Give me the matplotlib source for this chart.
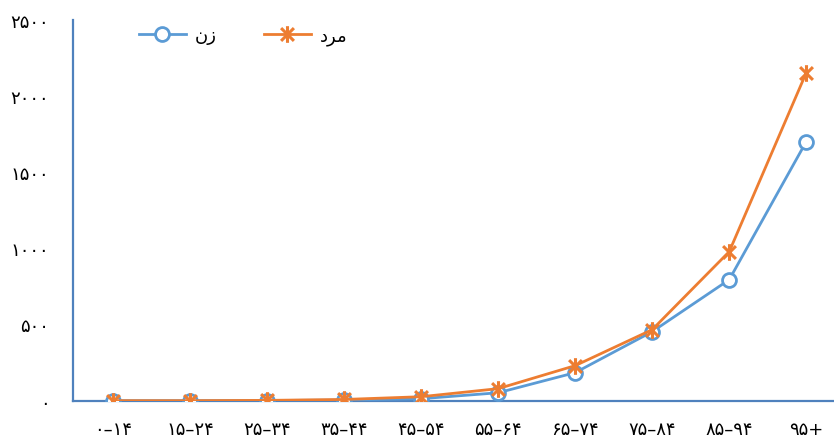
import matplotlib
matplotlib.use('Agg')
from matplotlib import pyplot as plt
from matplotlib.path import Path
import numpy as np

# age groups (Persian digits)
age_groups = ['۰–۱۴', '۱۵–۲۴', '۲۵–۳۴', '۳۵–۴۴', '۴۵–۵۴',
              '۵۵–۶۴', '۶۵–۷۴', '۷۵–۸۴', '۸۵–۹۴', '۹۵+']
women = [0, 0, 1, 4, 13, 52, 184, 453, 794, 1700]
men = [0, 0, 2, 8, 26, 79, 230, 466, 978, 2152]

y_ticks = [0, 500, 1000, 1500, 2000, 2500]
y_labels = ['۰', '۵۰۰', '۱۰۰۰', '۱۵۰۰', '۲۰۰۰', '۲۵۰۰']

# legend names, glyphs pre-shaped and in visual order (no bidi in mpl)
label_women = '\u0646\u0632'              # زن
label_men = '\u062f\ufeae\ufee3'          # مرد

blue = '#5B9BD5'
orange = '#ED7D31'
axis_col = '#4F81BD'

# excel style star: an x with a vertical bar through it
star = Path([(-1, -1), (1, 1), (-1, 1), (1, -1), (0, -1.3), (0, 1.3)],
            [Path.MOVETO, Path.LINETO, Path.MOVETO, Path.LINETO,
             Path.MOVETO, Path.LINETO])

plt.rcParams['font.family'] = ['DejaVu Sans']

fig = plt.figure(figsize=(8.34, 4.39), dpi=100)
ax = fig.add_axes([0.0875, 0.085, 0.9125, 0.868])

x = np.arange(len(age_groups))
ax.plot(x, women, color=blue, lw=2.0, marker='o', ms=10,
        mfc='white', mec=blue, mew=2.0, label=label_women, zorder=3)
ax.plot(x, men, color=orange, lw=2.0, marker=star, ms=12,
        mec=orange, mew=2.2, label=label_men, zorder=4)

ax.set_xlim(-0.52, 9.36)
ax.set_ylim(0, 2500)
ax.set_xticks(x)
ax.set_xticklabels(age_groups, fontsize=13)
ax.set_yticks(y_ticks)
ax.set_yticklabels(y_labels, fontsize=13)
ax.tick_params(axis='both', length=0, colors='black')
ax.tick_params(axis='x', pad=14)
ax.tick_params(axis='y', pad=17)

for s in ['top', 'right']:
    ax.spines[s].set_visible(False)
for s in ['left', 'bottom']:
    ax.spines[s].set_color(axis_col)
    ax.spines[s].set_linewidth(1.6)

ax.legend(loc='upper left', bbox_to_anchor=(0.065, 1.025), ncol=2,
          frameon=False, fontsize=13, handlelength=2.6,
          columnspacing=2.6, handletextpad=0.5)

fig.savefig('out.png', dpi=100)
